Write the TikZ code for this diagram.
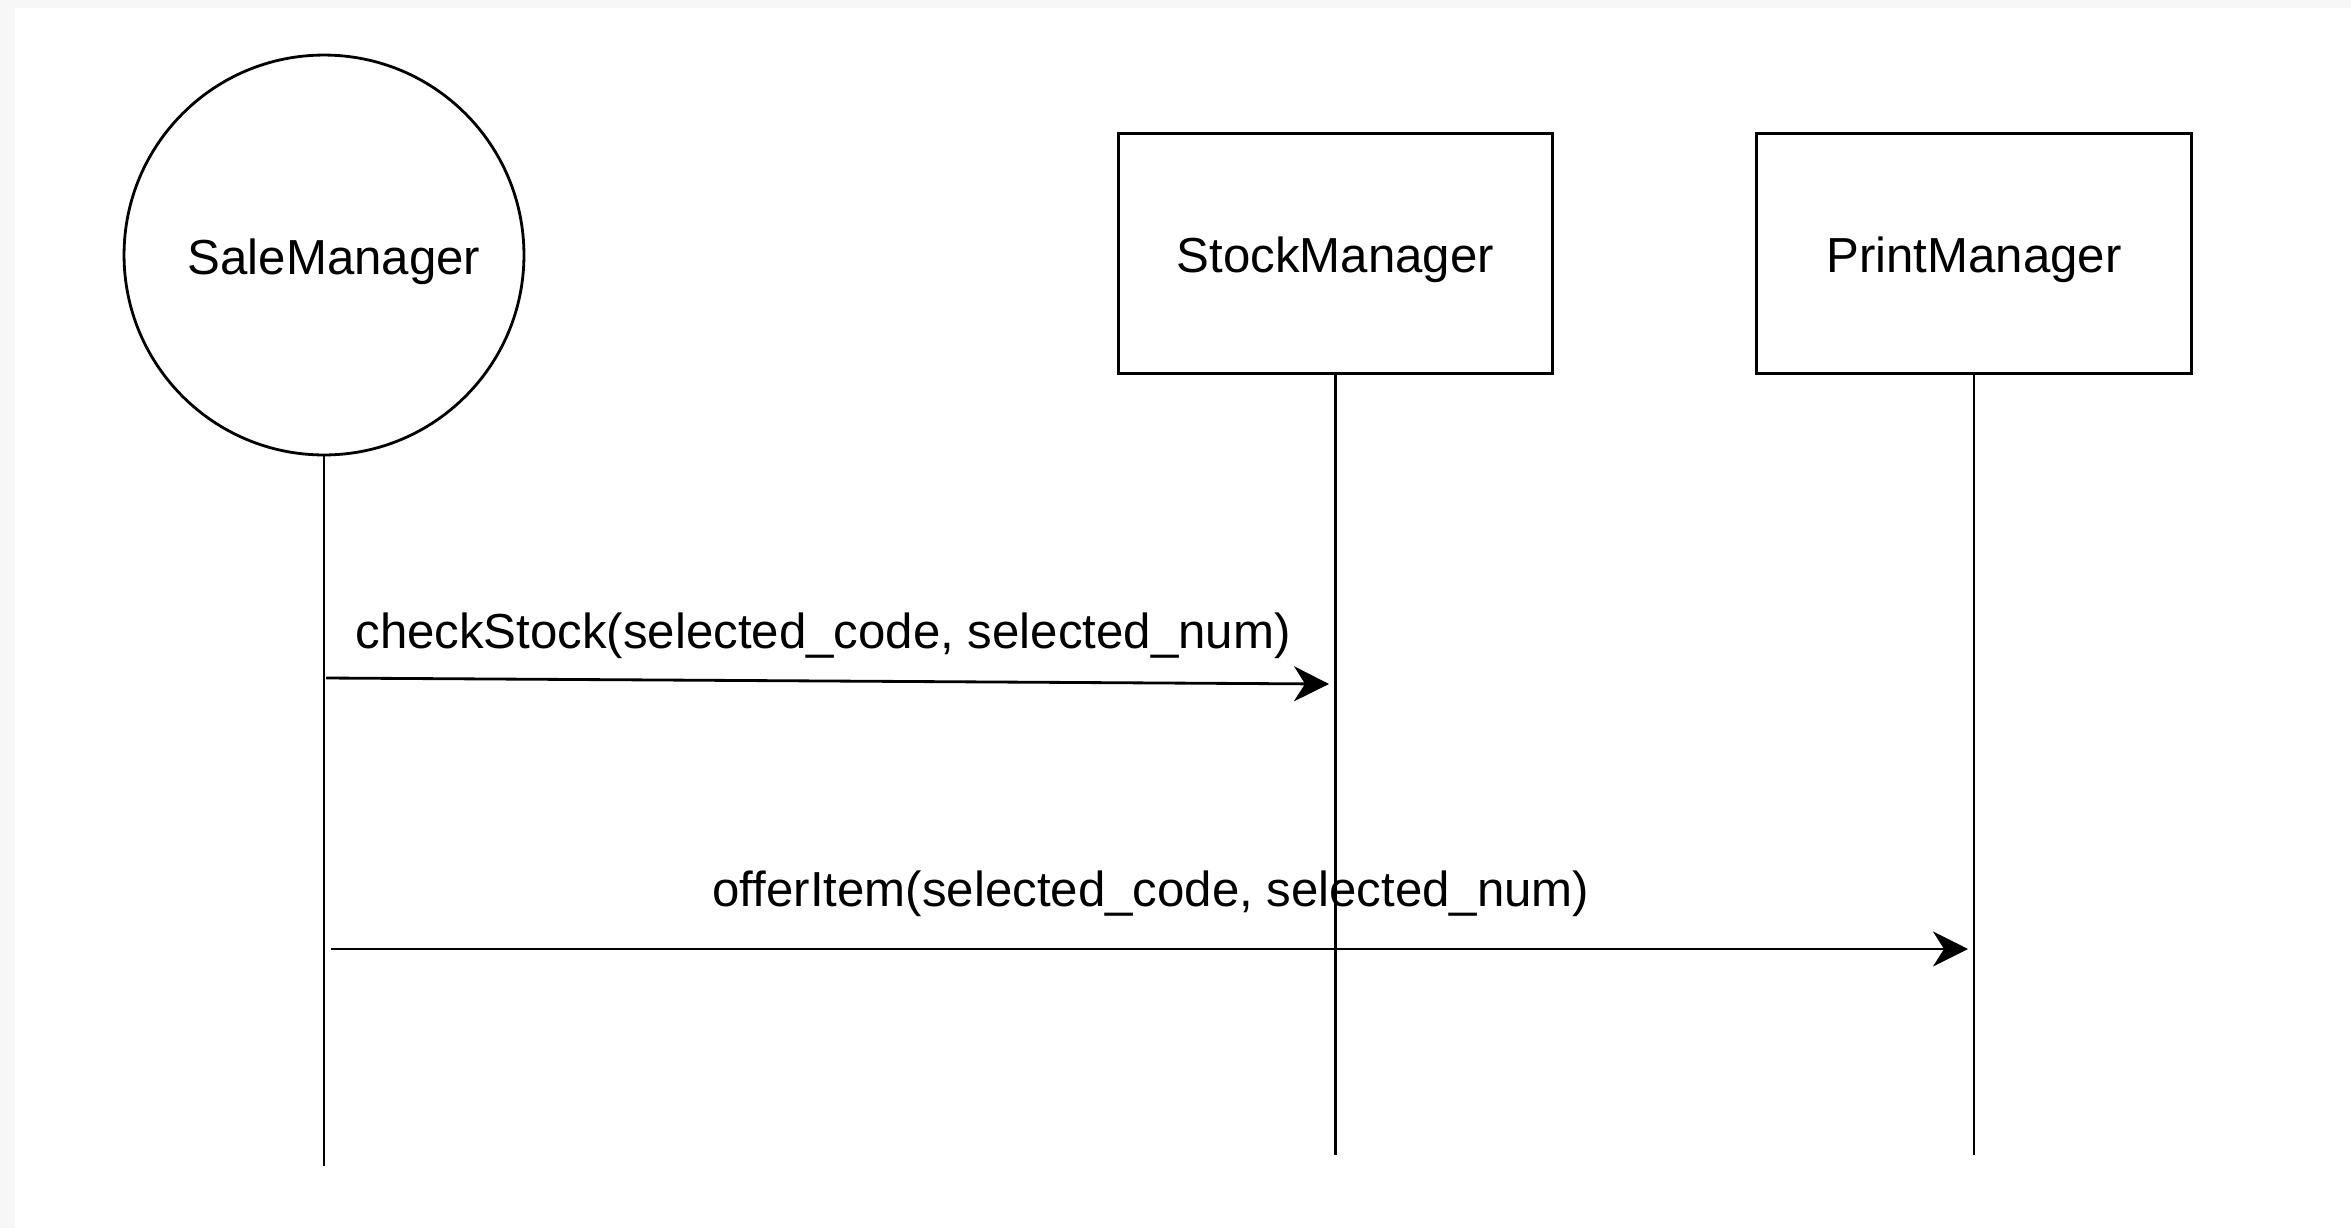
\documentclass[tikz,border=0pt]{standalone}
\usepackage{fontspec}
\setmainfont{Liberation Sans}
\usetikzlibrary{arrows.meta}
\definecolor{edgegray}{HTML}{F7F7F7}
\begin{document}
\begin{tikzpicture}[x=0.02cm,y=-0.02cm,
  lbl/.style={font=\fontsize{28}{34}\selectfont, inner sep=0pt},
  thinline/.style={line width=1.6pt},
  objbox/.style={draw, line width=1.6pt, rectangle, minimum width=8.69cm, minimum height=4.8cm, inner sep=0pt, text height=0.96cm, text depth=0.2cm, font=\fontsize{28}{34}\selectfont},
  objcirc/.style={draw, line width=1.6pt, circle, minimum size=8cm, inner sep=0pt, text height=0.96cm, text depth=0.2cm, font=\fontsize{28}{34}\selectfont},
  msg/.style={line width=1.6pt, -{Stealth[length=0.7cm,width=0.7cm,inset=0.22cm]}}]
\fill[edgegray] (0,0) rectangle (2351,1228);
\fill[white] (15,8) rectangle (2351,1228);
\useasboundingbox (0,0) rectangle (2351,1228);

\node[objcirc] (sale) at (324,255) {\hspace*{0.4cm}SaleManager};
\node[objbox] (stock) at (1335.5,253.5) {StockManager};
\node[objbox] (print) at (1974,253.5) {PrintManager};

\coordinate (saleend) at (324,1166);
\coordinate (stockend) at (1335.5,1155);
\coordinate (printend) at (1974,1155);

\draw[thinline] (sale.south) -- (saleend);
\draw[thinline] (stock.south) -- (stockend);
\draw[thinline] (print.south) -- (printend);

\coordinate (m1s) at (326,678);
\coordinate (m1e) at (1329,684);
\coordinate (m2s) at (331,949);
\coordinate (m2e) at (1968,949);

\draw[msg] (m1s) -- (m1e);
\draw[msg] (m2s) -- (m2e);

\node[lbl, anchor=base] (l1) at (823,648) {checkStock(selected\_code, selected\_num)};
\node[lbl, anchor=base] (l2) at (1151,906) {offerItem(selected\_code, selected\_num)};
\end{tikzpicture}
\end{document}
